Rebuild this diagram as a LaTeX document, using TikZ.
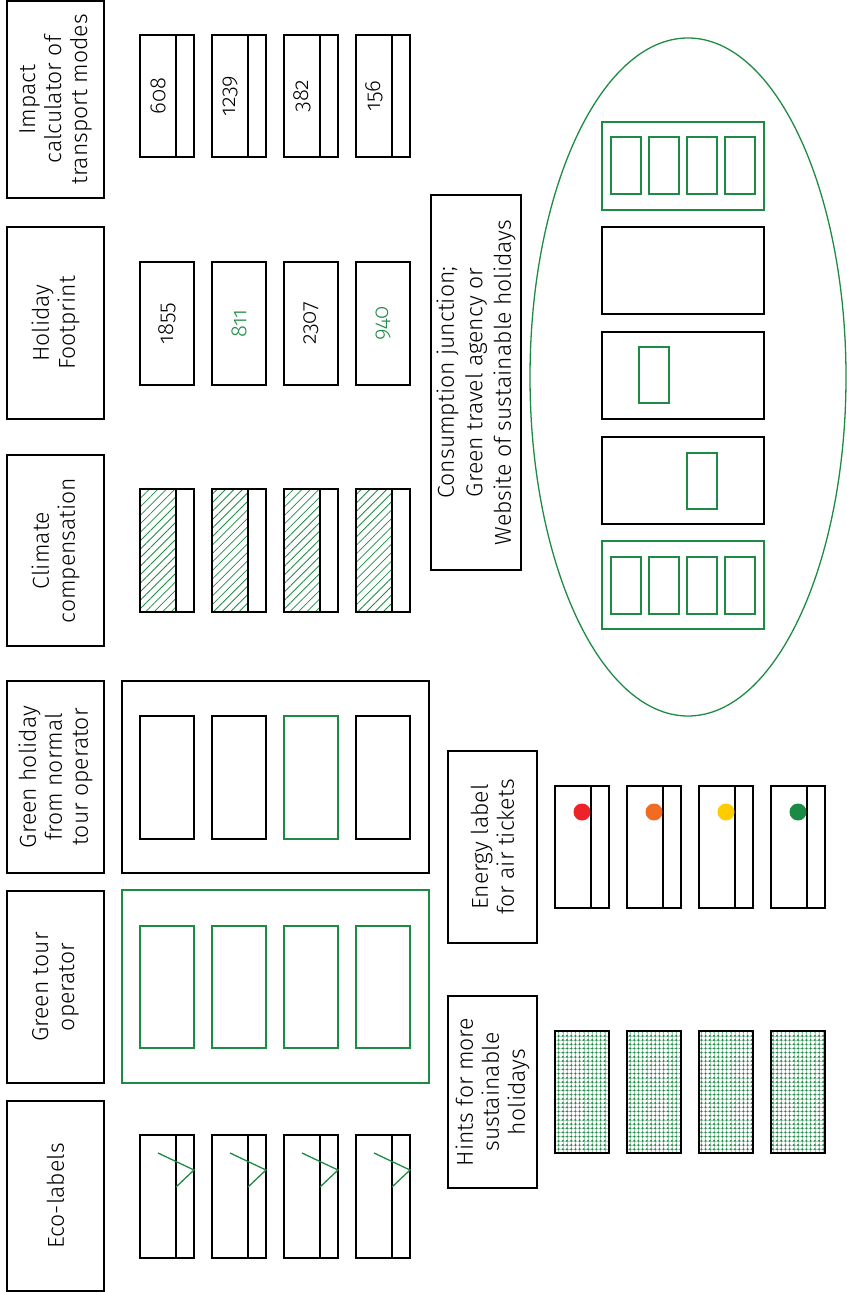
\documentclass[tikz,border=0pt]{standalone}
\usepackage{fontspec}
\setmainfont{Fira Sans Light}[Numbers=OldStyle]
\usetikzlibrary{patterns.meta}
\definecolor{leaf}{RGB}{30,139,69}
\definecolor{dotred}{RGB}{238,35,41}
\definecolor{dotorange}{RGB}{242,107,34}
\definecolor{dotyellow}{RGB}{255,204,0}
\definecolor{dotgreen}{RGB}{26,138,69}
\begin{document}
\begin{tikzpicture}[x=1pt,y=-1pt,
  frame/.style={draw=black, line width=1.3pt},
  gframe/.style={draw=leaf, line width=1.3pt},
  head/.style={frame, rotate=90, align=center, inner sep=0pt,
    font=\fontsize{23}{26}\selectfont},
  num/.style={rotate=90, inner sep=0pt, font=\fontsize{22}{24}\selectfont},
  hatch/.style={pattern={Lines[angle=45,distance=6pt,line width=0.8pt]}, pattern color=leaf},
  dotfill/.style={preaction={pattern={Hatch[angle=0,distance=4.2pt,line width=0.5pt]}, pattern color=leaf!40},
    pattern={Dots[distance=4.2pt,radius=1.1pt]}, pattern color=leaf},
]
\useasboundingbox (0,0) rectangle (846,1292);

% column headings
\node[head, minimum width=197pt, minimum height=97pt] (impact) at (55.5,99.5) {Impact\\calculator of\\transport modes};
\node[head, minimum width=192pt, minimum height=97pt] (footprint) at (55.5,323) {Holiday\\Footprint};
\node[head, minimum width=191pt, minimum height=97pt] (compensation) at (55.5,550.5) {Climate\\compensation};
\node[head, minimum width=192pt, minimum height=97pt] (greenholiday) at (55.5,777) {Green holiday\\from normal\\tour operator};
\node[head, minimum width=192pt, minimum height=97pt] (greentour) at (55.5,987) {Green tour\\operator};
\node[head, minimum width=190pt, minimum height=97pt] (ecolabels) at (55.5,1196) {Eco-labels};
\node[head, minimum width=192pt, minimum height=89pt] (energy) at (492.5,847) {Energy label\\for air tickets};
\node[head, minimum width=192pt, minimum height=89pt] (hints) at (492.5,1092) {Hints for more\\sustainable\\holidays};
\node[head, minimum width=375pt, minimum height=90pt, font=\fontsize{23}{28.5}\selectfont] (junction) at (476,382.5)
  {Consumption junction;\\Green travel agency or\\Website of sustainable holidays};

% impact calculator cards
\foreach \n [count=\i from 0] in {608,1239,382,156} {
  \pgfmathsetmacro\xa{140+72*\i}
  \draw[frame] (\xa,35) rectangle ++(54,122);
  \draw[frame] (\xa+36,35) -- ++(0,122);
  \node[num] (imp\i) at (\xa+18,96) {\n};
}

% holiday footprint cards
\foreach \n/\c [count=\i from 0] in {1855/black,811/leaf,2307/black,940/leaf} {
  \pgfmathsetmacro\xa{140+72*\i}
  \draw[frame] (\xa,262) rectangle ++(54,123);
  \node[num, text=\c] (fp\i) at (\xa+27,323.5) {\n};
}

% climate compensation cards
\foreach \i in {0,...,3} {
  \pgfmathsetmacro\xa{140+72*\i}
  \fill[hatch] (\xa,489) rectangle ++(36,123);
  \draw[frame] (\xa,489) rectangle ++(54,123);
  \draw[frame] (\xa+36,489) -- ++(0,123);
}

% green holiday from a normal tour operator
\draw[frame] (122,681) rectangle (429,873);
\foreach \c [count=\i from 0] in {black,black,leaf,black} {
  \pgfmathsetmacro\xa{140+72*\i}
  \draw[frame, draw=\c] (\xa,716) rectangle ++(54,123);
}

% green tour operator
\draw[gframe] (122,890) rectangle (429,1083);
\foreach \i in {0,...,3} {
  \pgfmathsetmacro\xa{140+72*\i}
  \draw[gframe] (\xa,926) rectangle ++(54,122);
}

% eco-label cards with tick
\foreach \i in {0,...,3} {
  \pgfmathsetmacro\xa{140+72*\i}
  \draw[frame] (\xa,1135) rectangle ++(54,123);
  \draw[frame] (\xa+36,1135) -- ++(0,123);
  \draw[gframe] (\xa+18,1153) -- (\xa+54,1170) -- (\xa+36,1187);
}

% energy label cards
\foreach \c [count=\i from 0] in {dotred,dotorange,dotyellow,dotgreen} {
  \pgfmathsetmacro\xa{555+72*\i}
  \draw[frame] (\xa,786) rectangle ++(54,122);
  \draw[frame] (\xa+36,786) -- ++(0,122);
  \fill[\c] (\xa+27,812) circle[radius=8.5pt];
}

% hints cards
\foreach \i in {0,...,3} {
  \pgfmathsetmacro\xa{555+72*\i}
  \fill[dotfill] (\xa,1031) rectangle ++(54,122);
  \draw[frame] (\xa,1031) rectangle ++(54,122);
}

% consumption junction
\draw[gframe] (688,377) ellipse[x radius=158pt, y radius=339pt];
\draw[gframe] (602,122) rectangle (764,210);
\draw[frame] (602,227) rectangle (764,314);
\draw[frame] (602,332) rectangle (764,419);
\draw[frame] (602,437) rectangle (764,524);
\draw[gframe] (602,541) rectangle (764,629);
\foreach \i in {0,...,3} {
  \pgfmathsetmacro\xa{611+38*\i}
  \draw[gframe] (\xa,137) rectangle ++(30,57);
  \draw[gframe] (\xa,557) rectangle ++(30,57);
}
\draw[gframe] (639,347) rectangle ++(30,56);
\draw[gframe] (687,453) rectangle ++(30,56);
\end{tikzpicture}
\end{document}
